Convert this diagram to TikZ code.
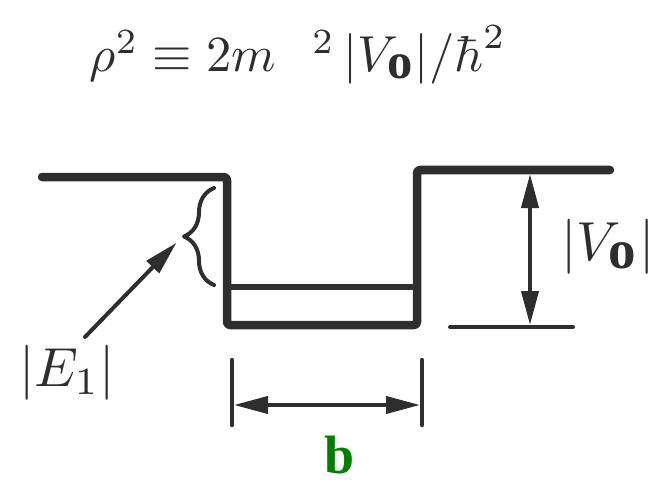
\documentclass[tikz,border=0pt]{standalone}
\usepackage{amsmath,amssymb}
\usepackage{fontspec}
\newfontfamily\tnr{Liberation Serif}
\usetikzlibrary{arrows.meta,decorations.pathreplacing}
\definecolor{ink}{HTML}{2E2E2E}
\definecolor{bgreen}{HTML}{008000}
\tikzset{px/.style={x=1pt,y=-1pt,line cap=round,line join=round,ink},
  lbl/.style={scale=5.5,inner sep=0pt,text=ink},
  wall/.style={line width=8.5pt,rounded corners=3pt},
  tri/.style={-{Triangle[length=34pt,width=17pt]}},
  dim/.style={line width=4pt,{Triangle[length=34pt,width=17pt]}-{Triangle[length=34pt,width=17pt]}}}

\begin{document}
\begin{tikzpicture}[px]
  \useasboundingbox (0,0) rectangle (657,487);
  \node[lbl,scale=0.92] (rho) at (298,55){$\rho^2\equiv 2m\;\;\,^2\,|V_{\mbox{\tnr\bfseries o}}|/\hbar^2$};
  % square well
  \coordinate (tl) at (42,177);\coordinate (lw) at (227,177);\coordinate (bl) at (227,325);
  \coordinate (br) at (417,325);\coordinate (rw) at (417,170);\coordinate (tr) at (610,170);
  \draw[wall] (tl)--(lw)--(bl)--(br)--(rw)--(tr);
  \draw[line width=6pt] (232,287)--(412,287);
  \draw[line width=4pt,decorate,decoration={brace,amplitude=30pt}] (214,285)--(214,188);
  \coordinate (brtip) at (182,237);
  \node[lbl] (e1) at (67,373){$|E_1|$};
  \draw[line width=4pt,tri,shorten >=8pt] (85,337)--(brtip);
  % depth |V0|
  \coordinate (vtop) at (530,174);\coordinate (vbot) at (530,325);
  \draw[line width=4pt] (450,327)--(573,327);
  \draw[dim] (vtop)--(vbot);
  \node[lbl] (v0) at (608,247){$|V_{\mbox{\tnr\bfseries o}}|$};
  % width
  \draw[line width=4.5pt] (232,360)--(232,425);\draw[line width=4.5pt] (422,360)--(422,425);
  \coordinate (wl) at (234,405);\coordinate (wr) at (420,405);
  \draw[dim] (wl)--(wr);
  \node[scale=5.4,inner sep=0pt,bgreen] (b) at (340,455){\tnr\bfseries b};
\end{tikzpicture}
\end{document}
